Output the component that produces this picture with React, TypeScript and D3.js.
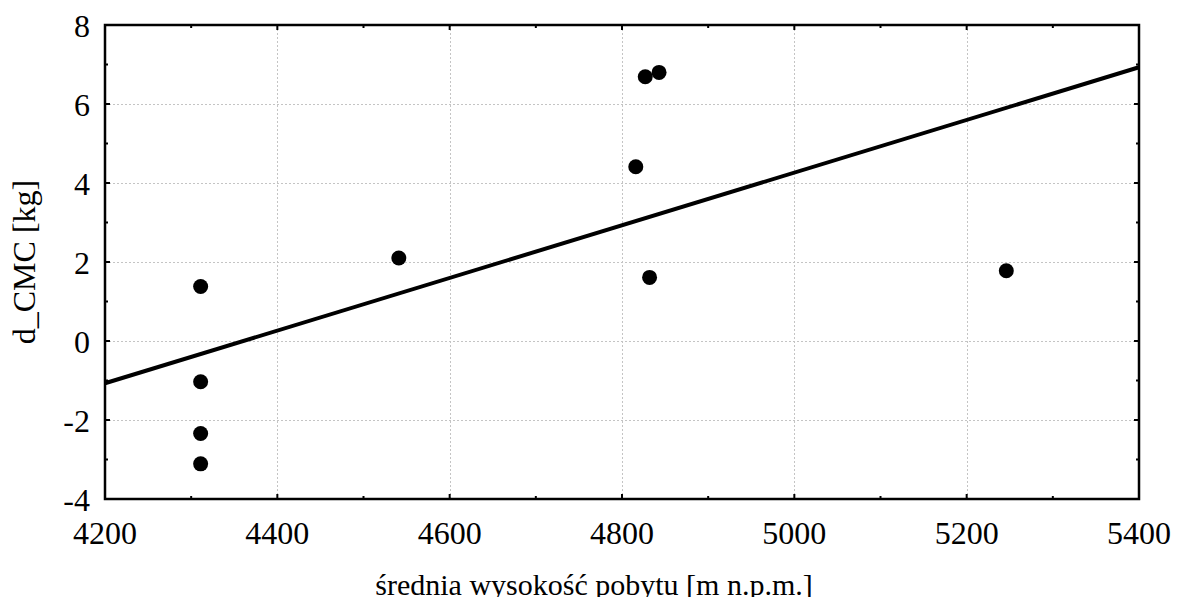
import React, { useEffect, useRef } from 'react';
import * as d3 from 'd3';

// średnia wysokość pobytu [m n.p.m.] vs d_CMC [kg]
const altitude = [4311, 4311, 4311, 4311, 4541, 4816, 4827, 4843, 4832, 5246];
const dCMC = [1.38, -1.03, -2.34, -3.11, 2.1, 4.41, 6.69, 6.8, 1.61, 1.78];
const xTicks = [4200, 4400, 4600, 4800, 5000, 5200, 5400];
const yTicks = [-4, -2, 0, 2, 4, 6, 8];

const W = 1184;
const H = 605;
const FONT = "'Liberation Serif', 'DejaVu Serif', serif";

const App: React.FC = () => {
  const svgRef = useRef<SVGSVGElement>(null);

  useEffect(() => {
    if (!svgRef.current) return;
    const svg = d3.select(svgRef.current);
    svg.selectAll('*').remove();

    const left = 105, right = 1139, top = 25, bottom = 499;
    const x = d3.scaleLinear().domain([4200, 5400]).range([left, right]);
    const y = d3.scaleLinear().domain([-4, 8]).range([bottom, top]);

    // grid
    const grid = svg.append('g')
      .attr('stroke', '#c4c4c4')
      .attr('stroke-width', 1)
      .attr('stroke-dasharray', '2,2');
    xTicks.slice(1, -1).forEach(t => {
      grid.append('line')
        .attr('x1', Math.round(x(t)) + 0.5).attr('x2', Math.round(x(t)) + 0.5)
        .attr('y1', top).attr('y2', bottom);
    });
    yTicks.slice(1, -1).forEach(t => {
      grid.append('line')
        .attr('y1', Math.round(y(t)) + 0.5).attr('y2', Math.round(y(t)) + 0.5)
        .attr('x1', left).attr('x2', right);
    });

    // regression line (least squares)
    const mx = d3.mean(altitude) as number;
    const my = d3.mean(dCMC) as number;
    let sxy = 0, sxx = 0;
    altitude.forEach((a, i) => {
      sxy += (a - mx) * (dCMC[i] - my);
      sxx += (a - mx) * (a - mx);
    });
    const slope = sxy / sxx;
    const fit = x.domain().map(a => [a, my + slope * (a - mx)] as [number, number]);
    const line = d3.line<[number, number]>().x(d => x(d[0])).y(d => y(d[1]));
    svg.append('path')
      .attr('d', line(fit) || '')
      .attr('fill', 'none')
      .attr('stroke', '#000')
      .attr('stroke-width', 4);

    // points
    svg.append('g')
      .selectAll('circle')
      .data(altitude)
      .enter()
      .append('circle')
      .attr('cx', d => x(d))
      .attr('cy', (_d, i) => y(dCMC[i]))
      .attr('r', 7.5)
      .attr('fill', '#000');

    // frame
    svg.append('rect')
      .attr('x', left).attr('y', top)
      .attr('width', right - left).attr('height', bottom - top)
      .attr('fill', 'none')
      .attr('stroke', '#000')
      .attr('stroke-width', 2.5);

    // ticks (inward, on all four sides)
    const ticks = svg.append('g').attr('stroke', '#000').attr('stroke-width', 2);
    const xMinor = d3.range(4300, 5400, 200);
    const yMinor = d3.range(-3, 8, 2);
    xTicks.forEach(t => {
      ticks.append('line').attr('x1', x(t)).attr('x2', x(t)).attr('y1', bottom).attr('y2', bottom - 5);
      ticks.append('line').attr('x1', x(t)).attr('x2', x(t)).attr('y1', top).attr('y2', top + 5);
    });
    xMinor.forEach(t => {
      ticks.append('line').attr('x1', x(t)).attr('x2', x(t)).attr('y1', bottom).attr('y2', bottom - 3);
      ticks.append('line').attr('x1', x(t)).attr('x2', x(t)).attr('y1', top).attr('y2', top + 3);
    });
    yTicks.forEach(t => {
      ticks.append('line').attr('y1', y(t)).attr('y2', y(t)).attr('x1', left).attr('x2', left + 5);
      ticks.append('line').attr('y1', y(t)).attr('y2', y(t)).attr('x1', right).attr('x2', right - 5);
    });
    yMinor.forEach(t => {
      ticks.append('line').attr('y1', y(t)).attr('y2', y(t)).attr('x1', left).attr('x2', left + 3);
      ticks.append('line').attr('y1', y(t)).attr('y2', y(t)).attr('x1', right).attr('x2', right - 3);
    });

    // tick labels
    const labels = svg.append('g')
      .style('font-family', FONT)
      .style('font-size', '32px')
      .attr('fill', '#000');
    xTicks.forEach(t => {
      labels.append('text')
        .attr('x', x(t))
        .attr('y', 544)
        .attr('text-anchor', 'middle')
        .text(String(t));
    });
    yTicks.forEach(t => {
      labels.append('text')
        .attr('x', 90)
        .attr('y', y(t) + 12)
        .attr('text-anchor', 'end')
        .text(String(t));
    });

    // axis titles
    labels.append('text')
      .attr('x', 594)
      .attr('y', 595)
      .attr('text-anchor', 'middle')
      .style('font-size', '30px')
      .text('średnia wysokość pobytu [m n.p.m.]');
    labels.append('text')
      .attr('transform', `translate(35, ${(top + bottom) / 2}) rotate(-90)`)
      .attr('text-anchor', 'middle')
      .text('d_CMC [kg]');
  }, []);

  return (
    <div style={{ width: W, height: H, margin: -8, background: '#fff' }}>
      <svg ref={svgRef} width={W} height={H} style={{ display: 'block' }}></svg>
    </div>
  );
};

export default App;
